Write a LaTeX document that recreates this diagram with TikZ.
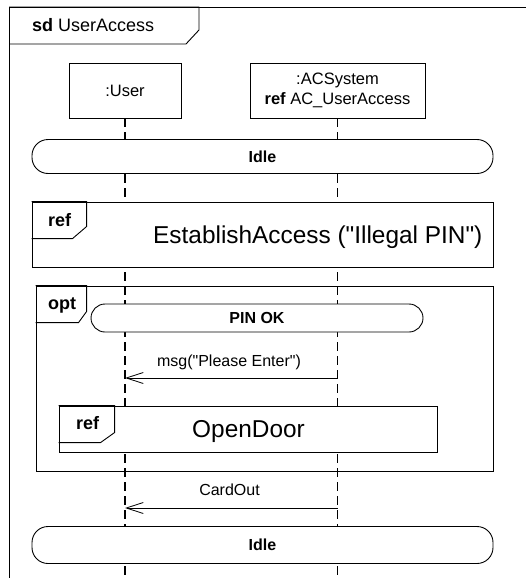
\documentclass[tikz,border=0pt]{standalone}
\usepackage{fontspec}
\setmainfont{Liberation Sans}[Ligatures=TeXOff]
\usetikzlibrary{arrows.meta,positioning}

\begin{document}
\begin{tikzpicture}[x=1pt, y=-1pt,
  every node/.style={inner sep=0pt, font=\fontsize{16}{20}\selectfont},
  frame/.style={line width=0.9pt},
  head/.style={draw, fill=white, line width=0.9pt, minimum height=55pt, align=center, font=\fontsize{16.5}{20}\selectfont},
  life/.style={line width=1.4pt, dash pattern=on 9pt off 5pt},
  state/.style={draw, fill=white, line width=0.9pt, rounded corners=16pt, font=\bfseries\fontsize{16}{20}\selectfont},
  refbox/.style={draw, fill=white, line width=0.9pt},
  tag/.style={anchor=base west, font=\bfseries\fontsize{18}{20}\selectfont},
  big/.style={anchor=base west, font=\fontsize{24.4}{28}\selectfont},
  msg/.style={-{Straight Barb[length=17pt,width=11pt]}, line width=0.8pt},
  lbl/.style={anchor=base}
]
\useasboundingbox (0,0) rectangle (526,578);

% outer sd frame
\draw[frame] (9,578) |- (526,7);
\coordinate (sd) at (9,7);
\draw[frame] (sd) -- ++(190,0) -- ++(0,23) -- ++(-13,14) -- ++(-177,0);
\node[tag] (sdname) at (32,32) {sd \mdseries UserAccess};

% lifelines
\node[head, minimum width=112pt] (user) at (125,90.5) {:User};
\node[head, minimum width=175pt] (acs) at (337.5,90.5) {:ACSystem\\\textbf{ref} AC\_UserAccess};
\coordinate (userend) at (125,578);
\coordinate (acsend) at (337.5,578);
\draw[life] (user.south) -- (userend);
\draw[life] (acs.south) -- (acsend);

% states and fragments
\node[state, minimum width=461pt, minimum height=34pt] (idle1) at (262.5,156.5) {Idle};

\node[refbox, minimum width=461pt, minimum height=65pt] (ref1) at (262.5,234.5) {};
\draw[frame] (ref1.north west) -- ++(55,0) -- ++(0,25) -- ++(-14,12) -- ++(-41,0);
\node[tag] (ref1tag) at (48,226) {ref};
\node[big] (ref1txt) at (153,243) {EstablishAccess ("Illegal PIN")};

\node[draw, frame, minimum width=457pt, minimum height=185pt] (opt) at (264.5,378.5) {};
\draw[frame] (opt.north west) -- ++(51,0) -- ++(0,26) -- ++(-8,11) -- ++(-43,0);
\node[tag] (opttag) at (48,309) {opt};
\node[state, minimum width=332pt, minimum height=28pt, rounded corners=14pt] (pinok) at (257,318) {PIN OK};

\coordinate (m1a) at (acs.center |- 0,378);
\coordinate (m1b) at (user.center |- 0,378);
\draw[msg] (m1a) -- (m1b);
\node[lbl] (m1lbl) at (229,366) {msg("Please Enter")};

\node[refbox, minimum width=378pt, minimum height=46pt] (ref2) at (248,429) {};
\draw[frame] (ref2.north west) -- ++(56,0) -- ++(0,27) -- ++(-14,10) -- ++(-42,0);
\node[tag] (ref2tag) at (76,429) {ref};
\node[big] (ref2txt) at (192,437) {OpenDoor};

\coordinate (m2a) at (acs.center |- 0,508);
\coordinate (m2b) at (user.center |- 0,508);
\draw[msg] (m2a) -- (m2b);
\node[lbl] (m2lbl) at (229.5,495) {CardOut};

\node[state, minimum width=461pt, minimum height=37pt] (idle2) at (262.5,545) {Idle};
\end{tikzpicture}
\end{document}
